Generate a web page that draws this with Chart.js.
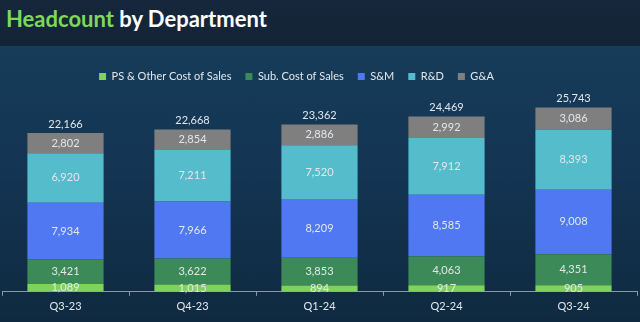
<!DOCTYPE html>
<html lang="en">
<head>
  <meta charset="UTF-8" />
  <title>Headcount by Department</title>
  <script src="https://cdn.jsdelivr.net/npm/chart.js"></script>
</head>
<style>
  html, body {
    margin: 0;
    padding: 0;
    width: 640px;
    height: 322px;
    overflow: hidden;
    font-family: "Lato", sans-serif;
  }

  body {
    background: linear-gradient(to bottom, #173f5c 0%, #133452 55%, #0f2a40 100%);
  }

  .title {
    height: 46px;
    background: linear-gradient(to bottom, #16273b, #142437);
    color: #ffffff;
    font-weight: bold;
    font-size: 22px;
    line-height: 38px;
    padding-left: 6px;
    box-sizing: border-box;
  }

  .title span {
    color: #7ed957;
  }

  .graphe {
    position: absolute;
    left: 0;
    top: 46px;
    width: 640px;
    height: 276px;
  }
</style>
<body>
  <div class="title"><span>Headcount</span> by Department</div>
  <div class="graphe">
    <canvas id="myChart"></canvas>
  </div>

  <script>
    const quarters = ["Q3-23", "Q4-23", "Q1-24", "Q2-24", "Q3-24"];
    const psOther = [1089, 1015, 894, 917, 905];
    const subCost = [3421, 3622, 3853, 4063, 4351];
    const salesMkt = [7934, 7966, 8209, 8585, 9008];
    const rnd = [6920, 7211, 7520, 7912, 8393];
    const ga = [2802, 2854, 2886, 2992, 3086];
    const totals = [22166, 22668, 23362, 24469, 25743];

    const textColor = "#e3e7eb";
    const fmt = v => v.toLocaleString("en-US");

    // writes values in each segment and totals on top
    const valueLabels = {
      id: "valueLabels",
      afterLayout(chart) {
        // legend sits a bit left of centre in the original
        chart.legend.right -= 46;
      },
      afterDatasetsDraw(chart) {
        const ctx = chart.ctx;
        ctx.save();
        ctx.font = "11px Lato";
        ctx.fillStyle = textColor;
        ctx.textAlign = "center";
        ctx.textBaseline = "middle";
        chart.data.datasets.forEach((ds, i) => {
          const meta = chart.getDatasetMeta(i);
          meta.data.forEach((bar, j) => {
            ctx.fillText(fmt(ds.data[j]), bar.x, (bar.y + bar.base) / 2);
          });
        });
        const last = chart.getDatasetMeta(chart.data.datasets.length - 1);
        last.data.forEach((bar, j) => {
          ctx.fillText(fmt(totals[j]), bar.x, bar.y - 9);
        });
        ctx.restore();
      }
    };

    const ctx = document.getElementById("myChart").getContext("2d");
    new Chart(ctx, {
      type: "bar",
      data: {
        labels: quarters,
        datasets: [
          { label: "PS & Other Cost of Sales", data: psOther, backgroundColor: "#7fd35a" },
          { label: "Sub. Cost of Sales", data: subCost, backgroundColor: "#3b8a57" },
          { label: "S&M", data: salesMkt, backgroundColor: "#5078f2" },
          { label: "R&D", data: rnd, backgroundColor: "#55bccb" },
          { label: "G&A", data: ga, backgroundColor: "#7f7f7f" }
        ]
      },
      plugins: [valueLabels],
      options: {
        responsive: true,
        maintainAspectRatio: false,
        animation: false,
        layout: { padding: { left: 2, right: 3, top: 11, bottom: 5 } },
        datasets: {
          bar: { barPercentage: 0.6, categoryPercentage: 1, borderWidth: 0 }
        },
        plugins: {
          legend: {
            position: "top",
            labels: {
              color: textColor,
              font: { size: 11, family: "Lato" },
              boxWidth: 7,
              boxHeight: 7,
              padding: 14
            }
          },
          tooltip: { enabled: false }
        },
        scales: {
          x: {
            stacked: true,
            offset: true,
            grid: {
              display: true,
              drawOnChartArea: false,
              color: "#8a99a8",
              tickLength: 4,
              offset: true
            },
            border: { color: "#8a99a8" },
            ticks: { color: textColor, font: { size: 11, family: "Lato" }, padding: 4 }
          },
          y: {
            stacked: true,
            display: false,
            min: 0,
            max: 27900
          }
        }
      }
    });
  </script>
</body>
</html>
